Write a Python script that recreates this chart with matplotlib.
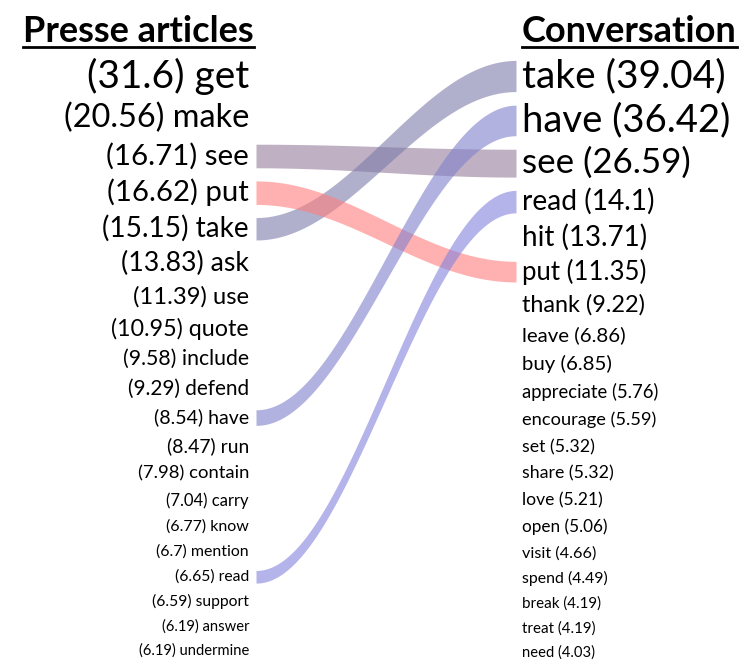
import numpy as np
import matplotlib
matplotlib.use('Agg')
import matplotlib.pyplot as plt

plt.rcParams['font.family'] = ['Lato', 'DejaVu Sans']

# verbs ranked for each corpus
press_words = ['get', 'make', 'see', 'put', 'take', 'ask', 'use', 'quote', 'include',
               'defend', 'have', 'run', 'contain', 'carry', 'know', 'mention', 'read',
               'support', 'answer', 'undermine']
press_scores = [31.6, 20.56, 16.71, 16.62, 15.15, 13.83, 11.39, 10.95, 9.58,
                9.29, 8.54, 8.47, 7.98, 7.04, 6.77, 6.7, 6.65,
                6.59, 6.19, 6.19]

conv_words = ['take', 'have', 'see', 'read', 'hit', 'put', 'thank', 'leave', 'buy',
              'appreciate', 'encourage', 'set', 'share', 'love', 'open', 'visit',
              'spend', 'break', 'treat', 'need']
conv_scores = [39.04, 36.42, 26.59, 14.1, 13.71, 11.35, 9.22, 6.86, 6.85,
               5.76, 5.59, 5.32, 5.32, 5.21, 5.06, 4.66,
               4.49, 4.19, 4.19, 4.03]

shared_words = ['see', 'take', 'put', 'have', 'read']
band_colors = ['#957d9b', '#7c7cab', '#ff7d7d', '#8080cc', '#8383dd']

W, H = 751, 659
FONT_SCALE = 0.95 * 0.72   # pixel height -> points for Lato vs. the original font


def pixel_sizes(scores, lo=15.5, hi=41.0):
    s = np.array(scores, dtype=float)
    r = np.log(s / s.min()) / np.log(s.max() / s.min())
    return lo + (hi - lo) * r


def row_centers(sizes, top, bottom):
    gaps = 0.8 * (sizes[:-1] + sizes[1:]) / 2 + 12
    y = np.concatenate([[0], np.cumsum(gaps)])
    return top + (bottom - top) * y / y[-1]


left_px = pixel_sizes(press_scores)
right_px = pixel_sizes(conv_scores)
left_y = row_centers(left_px, 76, 651)
right_y = row_centers(right_px, 76, 653)

fig = plt.figure(figsize=(W / 100, H / 100), dpi=100)
ax = fig.add_axes([0, 0, 1, 1])
ax.set_xlim(0, W)
ax.set_ylim(H, 0)
ax.axis('off')

left_x, right_x = 249, 522
band_x0, band_x1 = 256, 516

# ribbons between the two columns
t = np.linspace(0, 1, 300)
s = (1 - np.cos(np.pi * t)) / 2
xs = band_x0 + (band_x1 - band_x0) * t
for word, color in zip(shared_words, band_colors):
    i = press_words.index(word)
    j = conv_words.index(word)
    yc = left_y[i] + (right_y[j] - left_y[i]) * s
    half = (0.38 * left_px[i]) + (0.38 * right_px[j] - 0.38 * left_px[i]) * s
    ax.fill_between(xs, yc - half, yc + half, color=color, alpha=0.6, lw=0)

for w, v, px, y in zip(press_words, press_scores, left_px, left_y):
    ax.text(left_x, y, f'({v}) {w}', ha='right', va='center',
            fontsize=px * FONT_SCALE, color='black')

for w, v, px, y in zip(conv_words, conv_scores, right_px, right_y):
    ax.text(right_x, y, f'{w} ({v})', ha='left', va='center',
            fontsize=px * FONT_SCALE, color='black')

title_size = 38 * FONT_SCALE
title_l = ax.text(254, 32, 'Presse articles', ha='right', va='center',
                  fontsize=title_size, fontweight='bold')
title_r = ax.text(522, 32, 'Conversation', ha='left', va='center',
                  fontsize=title_size, fontweight='bold')

# underline the titles
fig.canvas.draw()
inv = ax.transData.inverted()
for ttl in (title_l, title_r):
    bb = ttl.get_window_extent()
    (x0, _), (x1, _) = inv.transform([(bb.x0, bb.y0), (bb.x1, bb.y0)])
    ax.plot([x0, x1], [47, 47], color='black', lw=2)

fig.savefig('out.png', dpi=100)
